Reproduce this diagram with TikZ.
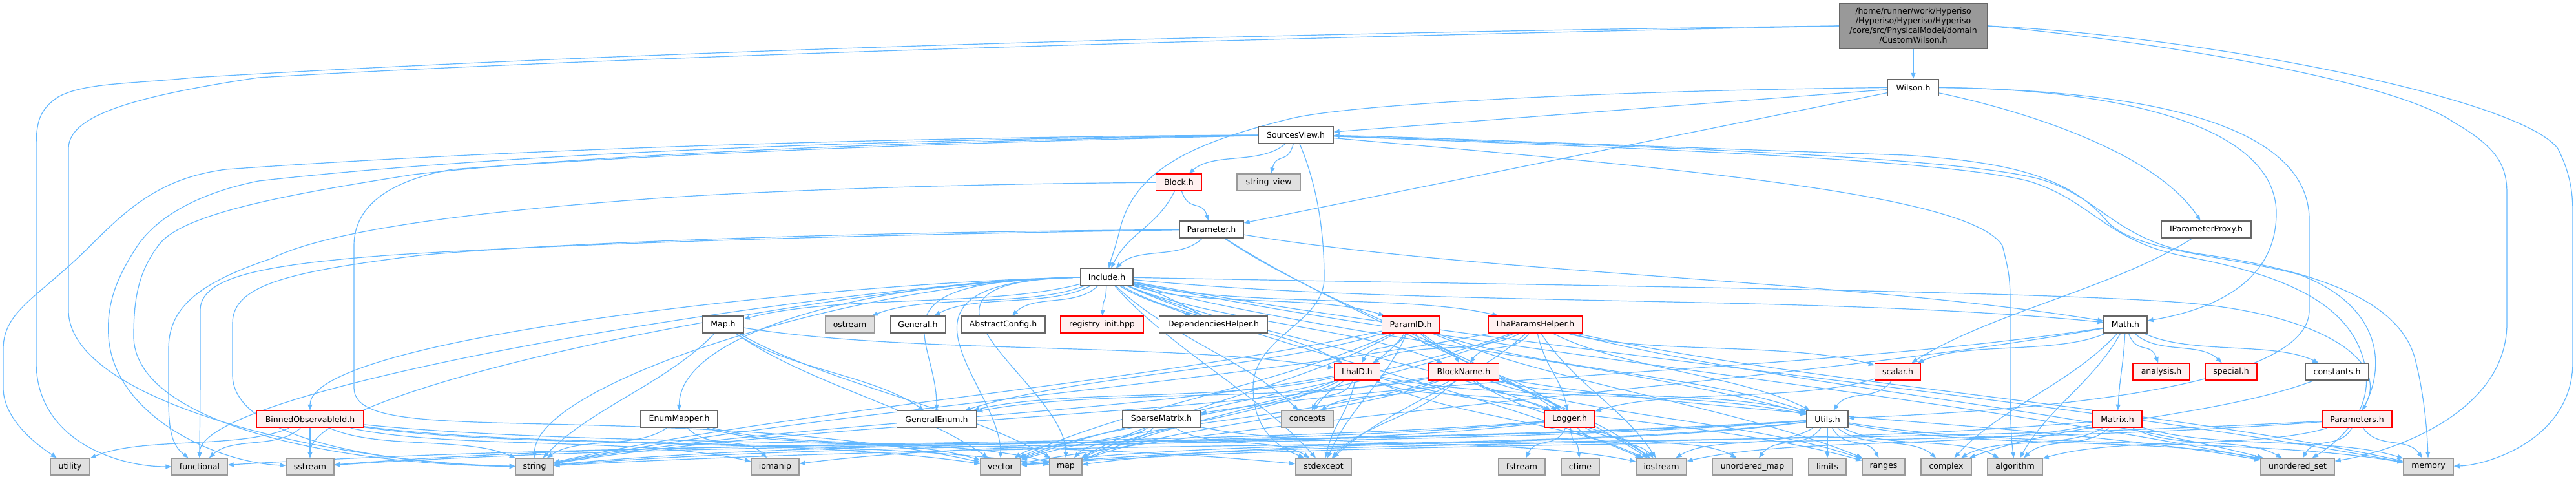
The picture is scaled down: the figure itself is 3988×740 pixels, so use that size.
\documentclass[tikz,border=0pt]{standalone}
\usepackage{fontspec}
\setmainfont{DejaVu Sans}
\usetikzlibrary{arrows.meta,calc}
\definecolor{edgec}{HTML}{63B8FF}
\definecolor{nborder}{HTML}{666666}
\definecolor{gborder}{HTML}{999999}
\definecolor{gfill}{HTML}{E0E0E0}
\definecolor{rfill}{HTML}{FFF0F0}
\definecolor{mfill}{HTML}{999999}
\pgfdeclarelayer{bg}
\pgfsetlayers{bg,main}
\newcommand{\edg}[2]{\draw[e] (#1) .. controls ($(#1)!0.3!(#2)+(0,25)$) and ($(#2)!0.3!(#1)+(0,-25)$) .. (#2);}
\newcommand{\edgs}[2]{\foreach \tgt in {#2}{\edg{#1}{\tgt}}}
\newcommand{\edgl}[2]{\draw[e] (#1) .. controls ($(#1)+(-380,6)$) and ($(#2)+(0,-130)$) .. (#2);}
\newcommand{\edgls}[2]{\foreach \tgt in {#2}{\edgl{#1}{\tgt}}}
\begin{document}
\begin{tikzpicture}[x=1pt,y=-1pt,
  nb/.style={draw=nborder, fill=white, line width=1.4pt, minimum height=26pt, inner sep=0pt, font=\fontsize{12.5}{15}\selectfont},
  gb/.style={nb, draw=gborder, fill=gfill},
  rb/.style={nb, draw=red, fill=rfill},
  mainb/.style={nb, fill=mfill, minimum width=229pt, minimum height=70pt, align=center},
  e/.style={draw=edgec, line width=1.2pt, -{Triangle[length=9pt,width=7pt]}, fill=none}]
\begin{pgfonlayer}{bg}
\fill[white] (0,0) rectangle (3988,740);
\end{pgfonlayer}
\useasboundingbox (0,0) rectangle (3988,740);
% nodes
\node[mainb] (root) at (2962,40) {/home/runner/work/Hyperiso\\/Hyperiso/Hyperiso/Hyperiso\\/core/src/PhysicalModel/domain\\/CustomWilson.h};
\node[nb,minimum width=79pt] (wilson) at (2962,135.5) {Wilson.h};
\node[nb,minimum width=116pt] (srcv) at (2006,208.5) {SourcesView.h};
\node[rb,minimum width=71pt] (block) at (1825,282) {Block.h};
\node[gb,minimum width=98pt] (strv) at (1964,282) {string\_view};
\node[nb,minimum width=99pt] (param) at (1875.5,355) {Parameter.h};
\node[nb,minimum width=139pt] (iproxy) at (3415.5,355) {IParameterProxy.h};
\node[nb,minimum width=81pt] (include) at (1713.5,428.5) {Include.h};
% row 502
\node[nb,minimum width=63pt] (mapf) at (1119.5,502) {Map.h};
\node[gb,minimum width=76pt] (ostream) at (1315.5,502) {ostream};
\node[nb,minimum width=85pt] (general) at (1421,502) {General.h};
\node[nb,minimum width=130pt] (abscfg) at (1553,502) {AbstractConfig.h};
\node[rb,minimum width=128pt] (reginit) at (1706,502) {registry\_init.hpp};
\node[nb,minimum width=168pt] (dephelp) at (1878.5,502) {DependenciesHelper.h};
\node[rb,minimum width=89pt] (paramid) at (2184,502) {ParamID.h};
\node[rb,minimum width=146pt] (lhaph) at (2377,502) {LhaParamsHelper.h};
\node[nb,minimum width=67pt] (math) at (3290.5,502) {Math.h};
% row 575
\node[rb,minimum width=71pt] (lhaid) at (2101,575) {LhaID.h};
\node[rb,minimum width=109pt] (blockname) at (2266,575) {BlockName.h};
\node[rb,minimum width=71pt] (scalar) at (2938,575) {scalar.h};
\node[rb,minimum width=88pt] (analysis) at (3346,575) {analysis.h};
\node[rb,minimum width=80pt] (special) at (3454,575) {special.h};
\node[nb,minimum width=98pt] (constants) at (3618,575) {constants.h};
% row 648
\node[rb,minimum width=165pt] (binned) at (480,648.5) {BinnedObservableId.h};
\node[nb,minimum width=119pt] (enummap) at (1051.5,648.5) {EnumMapper.h};
\node[nb,minimum width=123pt] (genenum) at (1450,648.5) {GeneralEnum.h};
\node[nb,minimum width=120pt] (sparse) at (1798,648.5) {SparseMatrix.h};
\node[gb,minimum width=80pt] (concepts) at (2024,648.5) {concepts};
\node[rb,minimum width=78pt] (logger) at (2430,648.5) {Logger.h};
\node[nb,minimum width=64pt] (utils) at (2829,648.5) {Utils.h};
\node[rb,minimum width=76pt] (matrix) at (3278,648.5) {Matrix.h};
\node[rb,minimum width=108pt] (parameters) at (3649,648.5) {Parameters.h};
% bottom row
\node[gb,minimum width=61pt] (utility) at (108.5,722) {utility};
\node[gb,minimum width=86pt] (functional) at (309,722) {functional};
\node[gb,minimum width=74pt] (sstream) at (480,722) {sstream};
\node[gb,minimum width=58pt] (string) at (827.5,722) {string};
\node[gb,minimum width=74pt] (iomanip) at (1200,722) {iomanip};
\node[gb,minimum width=62pt] (vector) at (1549,722) {vector};
\node[gb,minimum width=50pt] (map) at (1650,722) {map};
\node[gb,minimum width=87pt] (stdexcept) at (2049,722) {stdexcept};
\node[gb,minimum width=72pt] (fstream) at (2356,722) {fstream};
\node[gb,minimum width=59pt] (ctime) at (2446.5,722) {ctime};
\node[gb,minimum width=78pt] (iostream) at (2572,722) {iostream};
\node[gb,minimum width=124pt] (umap) at (2713,722) {unordered\_map};
\node[gb,minimum width=58pt] (limits) at (2829,722) {limits};
\node[gb,minimum width=66pt] (ranges) at (2916,722) {ranges};
\node[gb,minimum width=78pt] (complex) at (3013,722) {complex};
\node[gb,minimum width=85pt] (algorithm) at (3119.5,722) {algorithm};
\node[gb,minimum width=114pt] (uset) at (3557,722) {unordered\_set};
\node[gb,minimum width=77pt] (memory) at (3759.5,722) {memory};
% edges
\begin{pgfonlayer}{bg}
% root
\draw[e] (root) -- (wilson);
\draw[e] (root.west) .. controls (2000,50) and (1000,78) .. (300,120) .. controls (200,130) and (130,128) .. (90,150) .. controls (60,170) and (56,190) .. (56,230) -- (56,560) .. controls (56,680) and (180,722) .. (functional);
\draw[e] (root.west) .. controls (2000,58) and (1000,85) .. (400,120) .. controls (200,150) and (106,180) .. (106,230) -- (106,480) .. controls (106,620) and (500,715) .. (string);
\draw[e] (root.east) .. controls (3300,60) and (3700,120) .. (3800,190) .. controls (3870,230) and (3881,260) .. (3881,300) -- (3881,500) .. controls (3881,640) and (3700,700) .. (uset);
\draw[e] (root.east) .. controls (3400,55) and (3900,150) .. (3960,230) .. controls (3980,270) and (3983,300) .. (3983,330) -- (3983,560) .. controls (3983,680) and (3850,720) .. (memory);
% wilson
\draw[e] (wilson) -- (srcv);
\draw[e] (wilson) -- (param);
\draw[e] (wilson.west) .. controls (2500,140) and (2100,160) .. (2000,183) .. controls (1850,220) and (1760,260) .. (1735,350) .. controls (1725,390) and (1720,400) .. (include);
\draw[e] (wilson.east) .. controls (3300,138) and (3524,200) .. (3524,330) .. controls (3524,440) and (3420,480) .. (math);
\draw[e] (wilson.east) .. controls (3350,140) and (3575,200) .. (3575,340) -- (3575,480) .. controls (3575,620) and (3000,640) .. (utils);
\draw[e] (wilson) .. controls (3150,175) and (3340,240) .. (iproxy);
% sources view
\edgs{srcv}{block,strv}
\draw[e] (srcv) .. controls (1400,212) and (800,230) .. (350,262) .. controls (250,275) and (200,320) .. (140,380) .. controls (60,460) and (5,480) .. (5,540) -- (5,600) .. controls (5,650) and (60,690) .. (utility);
\draw[e] (srcv) .. controls (1400,215) and (800,235) .. (400,280) .. controls (300,300) and (240,340) .. (213,380) .. controls (180,430) and (165,470) .. (168,520) .. controls (175,640) and (330,715) .. (sstream);
\draw[e] (srcv) .. controls (1400,218) and (900,240) .. (640,270) .. controls (450,300) and (280,330) .. (245,380) .. controls (215,420) and (207,460) .. (207,520) .. controls (207,650) and (500,718) .. (string);
\draw[e] (srcv) .. controls (1400,222) and (1000,240) .. (700,262) .. controls (600,280) and (548,320) .. (548,380) -- (548,600) .. controls (548,660) and (700,650) .. (988,660) .. controls (1300,670) and (1450,700) .. (vector);
\draw[e] (srcv) .. controls (2045,300) and (2050,380) .. (2050,430) .. controls (2050,500) and (1940,520) .. (1940,600) .. controls (1940,680) and (2000,700) .. (stdexcept);
\draw[e] (srcv) .. controls (2600,260) and (3050,300) .. (3100,380) .. controls (3110,420) and (3112,430) .. (3112,470) -- (3112,600) .. controls (3112,660) and (3115,690) .. (algorithm);
\draw[e] (srcv) .. controls (2500,225) and (3000,240) .. (3150,275) .. controls (3250,300) and (3270,370) .. (3400,392) .. controls (3600,420) and (3720,470) .. (3740,560) .. controls (3755,620) and (3758,680) .. (memory);
\draw[e] (srcv) .. controls (2500,228) and (3000,245) .. (3140,280) .. controls (3240,310) and (3260,375) .. (3390,398) .. controls (3560,430) and (3640,480) .. (3660,560) .. controls (3680,640) and (3610,690) .. (uset);
\draw[e] (parameters) .. controls (3700,560) and (3680,470) .. (3560,425) .. controls (3450,395) and (3300,390) .. (3260,340) .. controls (3200,270) and (3100,250) .. (2950,240) .. controls (2500,225) and (2200,212) .. (srcv);
% block, parameter
\edgs{block}{param,include}
\draw[e] (block) .. controls (1400,285) and (1100,300) .. (1000,308) .. controls (700,330) and (500,360) .. (420,400) .. controls (300,440) and (261,480) .. (261,540) -- (261,620) .. controls (261,670) and (268,690) .. (functional);
\edgs{param}{include,math,logger,iostream}
\draw[e] (param) .. controls (1400,362) and (900,375) .. (600,395) .. controls (400,410) and (310,430) .. (310,480) -- (310,560) .. controls (310,640) and (309,680) .. (functional);
\draw[e] (param) .. controls (1400,358) and (900,372) .. (650,395) .. controls (450,420) and (360,440) .. (360,500) -- (360,580) .. controls (360,680) and (600,718) .. (string);
% include
\edgs{include}{mapf,ostream,general,abscfg,reginit,paramid,lhaph,lhaid,blockname,logger,utils,math,iostream,memory,uset,concepts,stdexcept}
\edgls{include}{string,functional,sstream,binned,enummap,genenum,vector,map}
\draw[e] (include) .. controls (1760,460) and (1810,475) .. (dephelp);
\draw[e] (dephelp) .. controls (1850,480) and (1790,450) .. (include);
\draw[e] (include) .. controls (2300,440) and (3200,450) .. (3400,470) .. controls (3600,490) and (3700,560) .. (parameters);
% others
\edgs{mapf}{lhaid,genenum,vector,map,string}
\edgs{binned}{utility,functional,sstream,string,vector,map,iomanip,stdexcept}
\edgs{enummap}{string,vector,map,iomanip}
\edgs{sparse}{vector,map,stdexcept,iostream}
\edgs{paramid}{lhaid,blockname,logger,utils,string,vector,map,concepts,stdexcept,genenum,iostream,ranges}
\edgs{lhaph}{blockname,logger,lhaid,utils,string,vector,map,stdexcept,iostream,scalar,uset,memory}
\edgs{lhaid}{concepts,stdexcept,logger,utils,string,vector,map,genenum,iostream,ranges}
\edgs{blockname}{concepts,stdexcept,logger,utils,genenum,string,vector,map,iostream,ranges,uset}
\edgs{logger}{fstream,ctime,iostream,string,sstream,iomanip,umap}
\edgs{utils}{limits,ranges,umap,iostream,string,vector,map,algorithm,complex,functional,sstream,memory,uset}
\edgs{scalar}{utils,logger}
\edgs{math}{analysis,special,constants,matrix,sparse,complex,scalar,algorithm,vector}
\edgs{constants}{complex}
\edgs{matrix}{algorithm,vector,complex,memory,uset,iostream}
\edgs{parameters}{uset,memory,algorithm,string,vector}
\edgs{iproxy}{scalar}
\end{pgfonlayer}
\end{tikzpicture}
\end{document}
